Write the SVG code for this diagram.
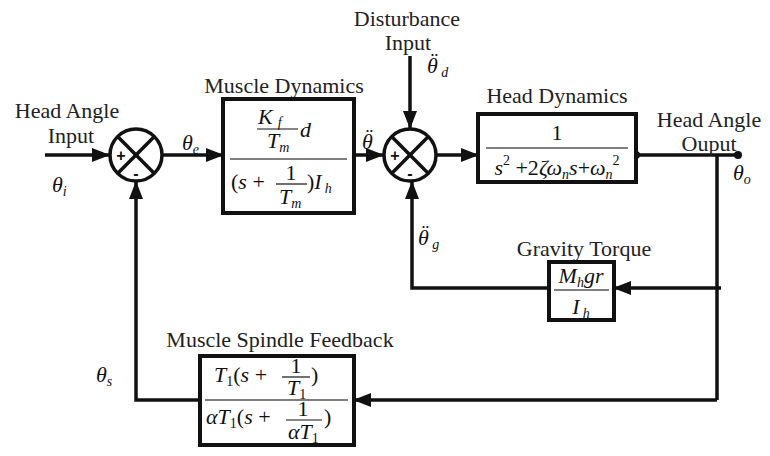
<svg xmlns="http://www.w3.org/2000/svg" width="770" height="456" viewBox="0 0 770 456">
<defs>
<marker id="arr" markerUnits="userSpaceOnUse" markerWidth="18" markerHeight="14" refX="17" refY="7" orient="auto">
<path d="M0,0 L18,7 L0,14 Z" fill="#111"/>
</marker>
<style>
.lbl{font-family:"Liberation Serif","Times New Roman",serif;font-size:22px;fill:#222}
.m{font-family:"Liberation Serif","Times New Roman",serif;font-style:italic;font-size:22px;fill:#111}
.up{font-style:normal}
.sub{font-size:14px}
.blk{fill:#fff;stroke:#111;stroke-width:4}
.sj{fill:#fff;stroke:#111;stroke-width:3.5}
.x{stroke:#111;stroke-width:3.5}
.bar{stroke:#555;stroke-width:1.6}
.sbar{stroke:#111;stroke-width:1.2}
.w{fill:none;stroke:#111;stroke-width:3.5}
.sg{font-family:"Liberation Sans",Arial,sans-serif;font-size:16px;font-weight:bold;fill:#111}
</style>
</defs>

<g id="connectors">
<path class="w" d="M45,155 H109" marker-end="url(#arr)"/>
<path class="w" d="M162,155 H223" marker-end="url(#arr)"/>
<path class="w" d="M354,155 H383" marker-end="url(#arr)"/>
<path class="w" d="M410,56 V128" marker-end="url(#arr)"/>
<path class="w" d="M436,155 H478" marker-end="url(#arr)"/>
<path class="w" d="M636,155 H738"/>
<path class="w" d="M717,155 V400"/>
<path class="w" d="M721,288 H614" marker-end="url(#arr)"/>
<path class="w" d="M549,288 H412 V182" marker-end="url(#arr)"/>
<path class="w" d="M717,400 H354" marker-end="url(#arr)"/>
<path class="w" d="M200,400 H136 V182" marker-end="url(#arr)"/>
<circle cx="636" cy="155" r="4" fill="#111"/>
<circle cx="738" cy="155" r="4" fill="#111"/>
</g>

<g id="input">
<text class="lbl" x="67" y="118" text-anchor="middle">Head Angle</text>
<text class="lbl" x="71" y="143" text-anchor="middle">Input</text>
<text class="m" x="52" y="192">θ<tspan class="sub" dy="4">i</tspan></text>
</g>

<g id="sum1">
<circle class="sj" cx="136" cy="155" r="26"/>
<line class="x" x1="117.6" y1="136.6" x2="154.4" y2="173.4"/>
<line class="x" x1="154.4" y1="136.6" x2="117.6" y2="173.4"/>
<text class="sg" x="121" y="161" text-anchor="middle">+</text>
<text class="sg" x="136" y="179" text-anchor="middle">-</text>
<text class="m" x="182" y="150">θ<tspan class="sub" dy="4">e</tspan></text>
</g>

<g id="muscle">
<text class="lbl" x="284" y="93" text-anchor="middle">Muscle Dynamics</text>
<rect class="blk" x="223" y="99" width="131" height="114"/>
<text class="m" x="258" y="124">K<tspan class="sub" dx="5" dy="3">f</tspan></text>
<line class="sbar" x1="257" y1="129" x2="298" y2="129"/>
<text class="m" x="267" y="148">T<tspan class="sub" dy="4">m</tspan></text>
<text class="m" x="300" y="137">d</text>
<line class="bar" x1="230" y1="159" x2="347" y2="159"/>
<text class="m" x="231" y="189"><tspan class="up">(</tspan>s <tspan class="up">+</tspan></text>
<text class="m up" x="291" y="180" text-anchor="middle">1</text>
<line class="sbar" x1="276" y1="184" x2="307" y2="184"/>
<text class="m" x="279" y="204">T<tspan class="sub" dy="4">m</tspan></text>
<text class="m" x="307" y="189"><tspan class="up">)</tspan>I<tspan class="sub" dx="3" dy="4">h</tspan></text>
<text class="m" x="362" y="149">θ<tspan class="up" dx="-7" dy="-6">¨</tspan></text>
</g>

<g id="disturbance">
<text class="lbl" x="407" y="26" text-anchor="middle">Disturbance</text>
<text class="lbl" x="408" y="50" text-anchor="middle">Input</text>
<text class="m" x="427" y="73">θ<tspan class="up" dx="-7" dy="-6">¨</tspan><tspan class="sub" dx="3" dy="10">d</tspan></text>
</g>

<g id="sum2">
<circle class="sj" cx="410" cy="155" r="26"/>
<line class="x" x1="391.6" y1="136.6" x2="428.4" y2="173.4"/>
<line class="x" x1="428.4" y1="136.6" x2="391.6" y2="173.4"/>
<text class="sg" x="395" y="161" text-anchor="middle">+</text>
<text class="sg" x="410" y="179" text-anchor="middle">-</text>
</g>

<g id="head">
<text class="lbl" x="557" y="103" text-anchor="middle">Head Dynamics</text>
<rect class="blk" x="478" y="114" width="158" height="68"/>
<text class="m up" x="557" y="140" text-anchor="middle">1</text>
<line class="bar" x1="486" y1="148" x2="628" y2="148"/>
<text class="m" x="557" y="175" text-anchor="middle" font-size="23">s<tspan class="sub up" dy="-10">2</tspan><tspan class="up" dy="10"> +2</tspan>ζω<tspan class="sub" dy="4">n</tspan><tspan dy="-4">s</tspan><tspan class="up">+</tspan>ω<tspan class="sub" dy="4">n</tspan><tspan class="sub up" dy="-14">2</tspan></text>
</g>

<g id="output">
<text class="lbl" x="709" y="127" text-anchor="middle">Head Angle</text>
<text class="lbl" x="709" y="151" text-anchor="middle">Ouput</text>
<text class="m" x="733" y="180">θ<tspan class="sub" dy="4">o</tspan></text>
</g>

<g id="gravity">
<text class="lbl" x="584" y="256" text-anchor="middle">Gravity Torque</text>
<rect class="blk" x="549" y="262" width="65" height="58" stroke-width="3.5"/>
<text class="m" x="581" y="283" text-anchor="middle">M<tspan class="sub" dy="4">h</tspan><tspan dy="-4">gr</tspan></text>
<line class="bar" x1="554" y1="290" x2="609" y2="290"/>
<text class="m" x="581" y="314" text-anchor="middle">I<tspan class="sub" dx="3" dy="4">h</tspan></text>
<text class="m" x="418" y="245">θ<tspan class="up" dx="-7" dy="-6">¨</tspan><tspan class="sub" dx="3" dy="10">g</tspan></text>
</g>

<g id="spindle">
<text class="lbl" x="280" y="347" text-anchor="middle">Muscle Spindle Feedback</text>
<rect class="blk" x="200" y="356" width="154" height="89"/>
<text class="m" x="214" y="382">T<tspan class="sub up" dy="4">1</tspan><tspan class="up" dy="-4">(</tspan>s <tspan class="up">+</tspan></text>
<text class="m up" x="296" y="373" text-anchor="middle">1</text>
<line class="sbar" x1="282" y1="377" x2="310" y2="377"/>
<text class="m" x="287" y="395">T<tspan class="sub up" dy="4">1</tspan></text>
<text class="m up" x="311" y="382">)</text>
<line class="bar" x1="205" y1="400" x2="348" y2="400"/>
<text class="m" x="206" y="424">αT<tspan class="sub up" dy="4">1</tspan><tspan class="up" dy="-4">(</tspan>s <tspan class="up">+</tspan></text>
<text class="m up" x="303" y="416" text-anchor="middle">1</text>
<line class="sbar" x1="286" y1="420" x2="322" y2="420"/>
<text class="m" x="288" y="439">αT<tspan class="sub up" dy="4">1</tspan></text>
<text class="m up" x="324" y="424">)</text>
<text class="m" x="96" y="382">θ<tspan class="sub" dy="4">s</tspan></text>
</g>
</svg>
